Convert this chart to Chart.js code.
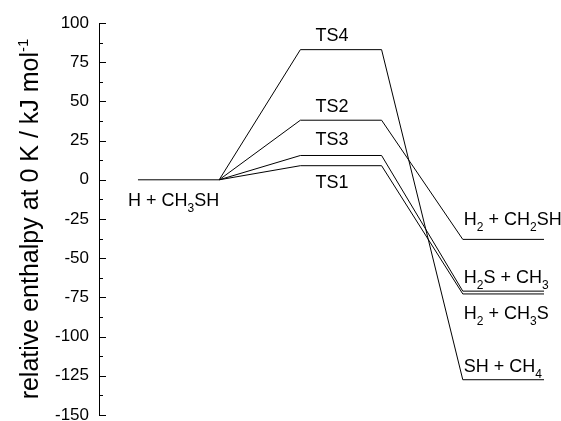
<!DOCTYPE html>
<html>
<head>
<meta charset="utf-8">
<script src="https://cdn.jsdelivr.net/npm/chart.js@4/dist/chart.umd.min.js"></script>
<style>
    html, body { margin: 0; padding: 0; background: #fff; }
</style>
</head>
<body>
<canvas id="chart" width="561" height="421"></canvas>
<script>
// Energy levels in kJ/mol. Stage x: reactant 0-1, transition states 2-3, products 4-5.
// "_" marks the next character as subscript.
const reactantLabel = 'H + CH_3SH';
const reactantEnergy = 0;
const tsLabels = ['TS4', 'TS2', 'TS3', 'TS1'];
const tsEnergies = [83, 38, 15.5, 9];
const productLabels = ['SH + CH_4', 'H_2 + CH_2SH', 'H_2S + CH_3', 'H_2 + CH_3S'];
const productEnergies = [-127.5, -38, -71, -72.8];
const stageX = [0, 1, 2, 3, 4, 5];
const yTicks = [-150, -125, -100, -75, -50, -25, 0, 25, 50, 75, 100];
const axisTitle = 'relative enthalpy at 0 K / kJ mol';
const axisTitleSup = '-1';

const FONT = '"Liberation Sans", Arial, Helvetica, sans-serif';

// path from the end of the reactant level through a TS to its products
function buildPath(tsEnergy, productEnergy) {
    const ys = [reactantEnergy, tsEnergy, tsEnergy, productEnergy, productEnergy];
    return stageX.slice(1).map((x, i) => ({ x, y: ys[i] }));
}

function drawRich(ctx, text, x, y, size) {
    let cx = x;
    for (let i = 0; i < text.length; i++) {
        let ch = text[i];
        let sub = false;
        if (ch === '_' && i + 1 < text.length) {
            ch = text[++i];
            sub = true;
        }
        ctx.font = (sub ? Math.round(size * 0.66) : size) + 'px ' + FONT;
        ctx.fillText(ch, cx, sub ? y + 6 : y);
        cx += ctx.measureText(ch).width;
    }
}

// label placement: pixel offsets from the left end of each level
const tsLabelDy = [-9, -8, -10, 22];
const productLabelDy = [-8, -14, -8, 25];

const labelPlugin = {
    id: 'levelLabels',
    afterDatasetsDraw(chart) {
        const { ctx, scales: { x, y } } = chart;
        ctx.save();
        ctx.fillStyle = '#000';
        ctx.textAlign = 'left';
        ctx.textBaseline = 'alphabetic';

        // inward ticks, major every 25, minor between
        const left = chart.chartArea.left;
        ctx.strokeStyle = '#000';
        ctx.lineWidth = 1;
        const step = yTicks[1] - yTicks[0];
        for (let v = yTicks[0]; v <= yTicks[yTicks.length - 1]; v += step / 2) {
            const py = Math.round(y.getPixelForValue(v)) + 0.5;
            const major = yTicks.includes(v);
            ctx.beginPath();
            ctx.moveTo(left, py);
            ctx.lineTo(left + (major ? 7 : 4), py);
            ctx.stroke();
        }

        drawRich(ctx, reactantLabel, x.getPixelForValue(0) - 10, y.getPixelForValue(reactantEnergy) + 26, 18);
        tsLabels.forEach((label, i) => {
            drawRich(ctx, label, x.getPixelForValue(2) + 15, y.getPixelForValue(tsEnergies[i]) + tsLabelDy[i], 18);
        });
        productLabels.forEach((label, i) => {
            drawRich(ctx, label, x.getPixelForValue(4) + 1, y.getPixelForValue(productEnergies[i]) + productLabelDy[i], 18);
        });

        // rotated axis title with superscript
        const titleSize = 25;
        const cy = (chart.chartArea.top + chart.chartArea.bottom) / 2;
        ctx.translate(38, cy);
        ctx.rotate(-Math.PI / 2);
        ctx.font = titleSize + 'px ' + FONT;
        const mainW = ctx.measureText(axisTitle).width;
        ctx.font = Math.round(titleSize * 0.6) + 'px ' + FONT;
        const supW = ctx.measureText(axisTitleSup).width;
        const start = -(mainW + supW) / 2;
        ctx.font = titleSize + 'px ' + FONT;
        ctx.fillText(axisTitle, start, 0);
        ctx.font = Math.round(titleSize * 0.6) + 'px ' + FONT;
        ctx.fillText(axisTitleSup, start + mainW, -titleSize * 0.42);
        ctx.restore();
    }
};

const lineStyle = {
    showLine: true,
    borderColor: '#000',
    borderWidth: 1,
    pointRadius: 0,
    tension: 0
};

new Chart(document.getElementById('chart'), {
    type: 'scatter',
    data: {
        datasets: [
            {
                label: 'reactant',
                data: stageX.slice(0, 2).map(x => ({ x, y: reactantEnergy })),
                ...lineStyle
            },
            ...tsLabels.map((label, i) => ({
                label,
                data: buildPath(tsEnergies[i], productEnergies[i]),
                ...lineStyle
            }))
        ]
    },
    options: {
        responsive: false,
        animation: false,
        layout: { padding: { top: 23, bottom: 6, left: 0, right: 17 } },
        plugins: {
            legend: { display: false },
            tooltip: { enabled: false }
        },
        scales: {
            x: {
                type: 'linear',
                display: false,
                min: -0.48,
                max: 5
            },
            y: {
                type: 'linear',
                min: yTicks[0],
                max: yTicks[yTicks.length - 1],
                grid: { display: false, drawTicks: false },
                border: { display: true, color: '#000', width: 1 },
                ticks: {
                    stepSize: 25,
                    padding: 10,
                    color: '#000',
                    font: { family: FONT, size: 17 }
                },
                afterFit(scale) {
                    scale.width = 99;
                    scale.paddingTop = 0;
                    scale.paddingBottom = 0;
                }
            }
        }
    },
    plugins: [labelPlugin]
});
</script>
</body>
</html>
